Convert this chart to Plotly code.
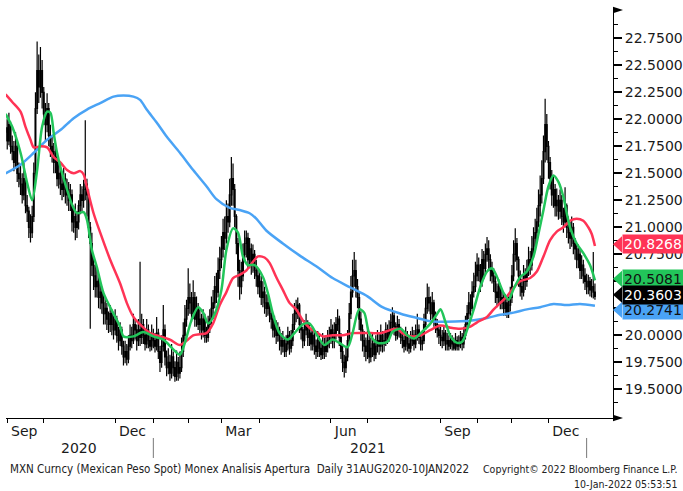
import plotly.graph_objects as go
import pandas as pd

# ---------------- data ----------------
# daily OHLC, trading days 31 Aug 2020 .. 10 Jan 2022
opens = [21.88,21.92,21.80,21.95,21.75,21.70,21.60,21.75,21.50,21.45,
 21.40,21.30,21.45,21.20,21.15,21.00,20.95,21.10,21.50,22.10,
 22.45,22.30,22.45,22.25,22.05,21.95,22.10,21.85,21.75,21.70,
 21.60,21.65,21.45,21.50,21.40,21.35,21.45,21.30,21.35,21.25,
 21.30,21.05,21.10,21.00,21.05,21.20,21.30,21.25,21.35,21.40,
 21.30,21.00,20.85,20.65,20.55,20.45,20.50,20.35,20.40,20.30,
 20.20,20.25,20.15,20.10,20.20,20.10,20.05,20.15,20.00,19.95,
 20.05,19.90,19.80,19.85,19.78,19.90,20.00,19.95,20.10,20.05,
 19.95,20.05,19.98,20.10,20.00,19.92,20.05,19.95,19.90,20.00,
 19.95,19.90,20.02,19.85,19.75,19.90,20.05,19.80,19.70,19.75,
 19.65,19.80,19.70,19.62,19.75,19.65,19.70,19.85,20.00,20.15,
 20.25,20.35,20.30,20.20,20.35,20.15,20.25,20.10,20.15,20.05,
 20.15,20.00,19.98,20.10,20.15,20.25,20.30,20.45,20.40,20.60,
 20.70,20.80,20.95,20.90,21.10,21.05,21.30,21.45,21.35,21.10,
 20.85,20.60,20.45,20.55,20.75,20.85,20.90,20.70,20.80,20.65,
 20.75,20.60,20.55,20.45,20.50,20.35,20.40,20.30,20.25,20.30,
 20.20,20.15,20.05,20.10,20.00,20.05,19.95,19.90,19.95,19.85,
 19.92,20.00,19.88,19.95,20.10,20.20,20.25,20.28,20.10,20.05,
 19.95,20.05,20.10,19.98,20.02,19.92,20.00,19.90,19.85,19.95,
 19.88,19.82,19.92,19.85,19.90,19.95,20.00,20.05,19.95,20.02,
 20.10,20.15,19.98,19.85,19.75,19.70,19.80,19.95,20.20,20.40,
 20.55,20.60,20.45,20.35,20.15,20.05,19.95,19.90,19.85,19.95,
 19.80,19.88,19.92,19.82,19.90,19.95,19.90,20.00,19.92,19.95,
 20.05,19.98,20.05,20.12,20.18,20.08,20.00,20.10,20.05,19.98,
 19.95,19.90,20.00,19.92,19.88,19.95,20.00,19.92,20.00,20.05,
 19.98,19.92,19.95,20.10,20.25,20.35,20.30,20.20,20.30,20.15,
 20.10,20.05,20.00,19.98,19.95,20.02,19.92,19.95,19.90,19.95,
 19.92,19.88,19.95,19.90,19.93,19.98,19.92,20.00,20.10,20.20,
 20.30,20.25,20.40,20.45,20.55,20.65,20.60,20.50,20.70,20.62,
 20.75,20.80,20.70,20.60,20.55,20.50,20.40,20.35,20.45,20.30,
 20.35,20.25,20.30,20.20,20.28,20.35,20.55,20.75,20.85,20.70,
 20.55,20.45,20.40,20.55,20.50,20.60,20.70,20.65,20.80,20.90,
 20.95,21.05,21.20,21.30,21.45,21.70,21.95,21.75,21.60,21.45,
 21.30,21.35,21.20,21.25,21.15,21.25,21.10,21.05,21.20,21.00,
 20.95,20.90,21.00,20.85,20.80,20.70,20.75,20.60,20.65,20.55,
 20.50,20.45,20.50,20.42,20.45,20.40]
highs = [22.02,22.00,22.06,21.98,21.85,21.80,21.88,21.80,21.60,21.58,
 21.50,21.60,21.50,21.30,21.19,21.12,21.20,21.60,22.25,22.72,
 22.60,22.67,22.55,22.30,22.15,22.24,22.15,21.95,21.85,21.78,
 21.75,21.70,21.62,21.58,21.50,21.55,21.50,21.45,21.42,21.40,
 21.35,21.20,21.22,21.15,21.25,21.40,21.38,21.44,21.99,21.45,
 21.35,21.05,20.95,20.72,20.65,20.62,20.55,20.50,20.45,20.39,
 20.35,20.30,20.22,20.28,20.24,20.18,20.24,20.18,20.08,20.12,
 20.08,19.95,19.95,19.92,20.00,20.10,20.08,20.20,20.16,20.10,
 20.15,20.68,20.20,20.15,20.05,20.15,20.10,20.02,20.10,20.06,
 20.02,20.17,20.06,19.90,20.00,20.28,20.10,19.86,19.88,19.82,
 19.92,19.85,19.76,19.86,19.80,19.85,19.98,20.12,20.28,20.33,
 20.62,20.48,20.40,20.51,20.40,20.36,20.30,20.24,20.20,20.24,
 20.20,20.08,20.18,20.24,20.36,20.42,20.55,20.58,20.72,20.82,
 20.92,21.08,21.10,21.25,21.22,21.45,21.65,21.59,21.40,21.12,
 20.90,20.70,20.68,20.85,20.97,20.97,20.95,20.90,20.85,20.84,
 20.79,20.70,20.62,20.60,20.55,20.50,20.45,20.38,20.40,20.33,
 20.28,20.20,20.18,20.14,20.12,20.08,20.02,20.04,19.98,20.00,
 20.08,20.04,20.05,20.20,20.30,20.33,20.35,20.30,20.16,20.08,
 20.14,20.20,20.14,20.10,20.06,20.08,20.04,19.96,20.04,20.00,
 19.94,20.02,19.98,20.00,20.05,20.08,20.15,20.10,20.12,20.17,
 20.24,20.18,20.02,19.90,19.82,19.90,20.05,20.30,20.55,20.70,
 20.77,20.70,20.52,20.40,20.22,20.10,20.04,19.98,20.08,20.00,
 19.98,20.02,19.96,20.00,20.05,20.02,20.10,20.04,20.04,20.12,
 20.10,20.14,20.20,20.26,20.22,20.12,20.18,20.15,20.08,20.06,
 20.00,20.08,20.04,19.98,20.04,20.08,20.05,20.10,20.20,20.10,
 20.02,20.04,20.20,20.35,20.48,20.45,20.36,20.40,20.33,20.22,
 20.15,20.10,20.08,20.05,20.08,20.05,20.02,20.00,20.02,20.00,
 19.98,20.02,19.99,20.00,20.04,20.02,20.08,20.18,20.28,20.40,
 20.38,20.50,20.58,20.68,20.76,20.72,20.66,20.80,20.78,20.85,
 20.91,20.88,20.75,20.68,20.62,20.55,20.48,20.52,20.48,20.42,
 20.39,20.38,20.34,20.36,20.45,20.65,20.88,20.99,20.90,20.73,
 20.60,20.52,20.65,20.62,20.70,20.82,20.78,20.92,21.00,21.08,
 21.18,21.35,21.48,21.62,21.85,22.19,22.05,21.80,21.65,21.53,
 21.48,21.40,21.36,21.30,21.35,21.30,21.18,21.37,21.22,21.10,
 21.05,21.10,21.04,20.90,20.85,20.84,20.80,20.74,20.70,20.62,
 20.57,20.56,20.54,20.52,20.77,20.48]
lows = [21.80,21.72,21.76,21.68,21.62,21.52,21.55,21.42,21.37,21.30,
 21.22,21.25,21.13,21.05,20.90,20.86,20.90,21.05,21.45,22.05,
 22.15,22.20,22.10,21.95,21.80,21.88,21.75,21.65,21.60,21.50,
 21.50,21.38,21.36,21.30,21.25,21.28,21.22,21.20,21.15,21.15,
 20.96,20.95,20.88,20.90,20.98,21.12,21.15,21.18,21.25,21.10,
 20.90,20.06,20.55,20.42,20.35,20.35,20.25,20.24,20.20,20.10,
 20.10,20.05,20.02,20.03,20.00,19.96,20.00,19.93,19.86,19.90,
 19.82,19.72,19.74,19.72,19.74,19.86,19.88,19.92,19.96,19.86,
 19.90,19.90,19.92,19.92,19.86,19.88,19.88,19.85,19.86,19.88,
 19.84,19.86,19.78,19.66,19.70,19.85,19.72,19.62,19.64,19.58,
 19.60,19.62,19.57,19.58,19.58,19.60,19.66,19.80,19.95,20.08,
 20.18,20.20,20.12,20.15,20.08,20.08,20.05,20.02,19.96,19.98,
 19.93,19.93,19.94,20.02,20.10,20.15,20.25,20.30,20.35,20.52,
 20.62,20.72,20.79,20.85,20.95,21.00,21.20,21.20,21.00,20.75,
 20.45,20.33,20.38,20.50,20.68,20.72,20.62,20.62,20.56,20.58,
 20.52,20.45,20.38,20.35,20.28,20.26,20.20,20.17,20.18,20.12,
 20.06,19.98,19.98,19.92,19.94,19.86,19.82,19.84,19.80,19.80,
 19.86,19.82,19.84,19.90,20.05,20.12,20.15,20.02,19.96,19.88,
 19.90,20.00,19.90,19.90,19.86,19.86,19.82,19.78,19.80,19.80,
 19.77,19.78,19.78,19.80,19.84,19.88,19.92,19.88,19.88,19.96,
 20.04,19.90,19.78,19.66,19.61,19.65,19.76,19.92,20.15,20.35,
 20.45,20.35,20.25,20.05,19.95,19.85,19.80,19.76,19.78,19.74,
 19.75,19.80,19.76,19.78,19.84,19.82,19.85,19.84,19.85,19.90,
 19.92,19.94,20.00,20.06,20.00,19.95,19.96,19.98,19.92,19.88,
 19.84,19.86,19.85,19.83,19.84,19.90,19.86,19.88,19.95,19.92,
 19.86,19.86,19.92,20.05,20.20,20.22,20.12,20.15,20.08,20.02,
 19.98,19.92,19.90,19.88,19.90,19.86,19.86,19.86,19.87,19.86,
 19.86,19.86,19.86,19.86,19.88,19.86,19.88,19.96,20.05,20.15,
 20.18,20.22,20.35,20.40,20.50,20.50,20.40,20.45,20.52,20.55,
 20.68,20.60,20.50,20.48,20.40,20.30,20.26,20.28,20.24,20.24,
 20.18,20.18,20.16,20.16,20.22,20.30,20.50,20.68,20.60,20.45,
 20.36,20.33,20.36,20.42,20.45,20.55,20.56,20.60,20.72,20.82,
 20.88,21.00,21.10,21.22,21.40,21.60,21.62,21.45,21.35,21.20,
 21.18,21.10,21.10,21.07,21.08,21.02,20.95,21.00,20.90,20.85,
 20.80,20.82,20.75,20.70,20.62,20.62,20.52,20.52,20.48,20.42,
 20.38,20.38,20.36,20.35,20.34,20.33]
closes = [21.92,21.80,21.95,21.75,21.70,21.60,21.75,21.50,21.45,21.40,
 21.30,21.45,21.20,21.15,21.00,20.95,21.10,21.50,22.10,22.45,
 22.30,22.45,22.25,22.05,21.95,22.10,21.85,21.75,21.70,21.60,
 21.65,21.45,21.50,21.40,21.35,21.45,21.30,21.35,21.25,21.30,
 21.05,21.10,21.00,21.05,21.20,21.30,21.25,21.35,21.40,21.30,
 21.00,20.85,20.65,20.55,20.45,20.50,20.35,20.40,20.30,20.20,
 20.25,20.15,20.10,20.20,20.10,20.05,20.15,20.00,19.95,20.05,
 19.90,19.80,19.85,19.78,19.90,20.00,19.95,20.10,20.05,19.95,
 20.05,19.98,20.10,20.00,19.92,20.05,19.95,19.90,20.00,19.95,
 19.90,20.02,19.85,19.75,19.90,20.05,19.80,19.70,19.75,19.65,
 19.80,19.70,19.62,19.75,19.65,19.70,19.85,20.00,20.15,20.25,
 20.35,20.30,20.20,20.35,20.15,20.25,20.10,20.15,20.05,20.15,
 20.00,19.98,20.10,20.15,20.25,20.30,20.45,20.40,20.60,20.70,
 20.80,20.95,20.90,21.10,21.05,21.30,21.45,21.35,21.10,20.85,
 20.60,20.45,20.55,20.75,20.85,20.90,20.70,20.80,20.65,20.75,
 20.60,20.55,20.45,20.50,20.35,20.40,20.30,20.25,20.30,20.20,
 20.15,20.05,20.10,20.00,20.05,19.95,19.90,19.95,19.85,19.92,
 20.00,19.88,19.95,20.10,20.20,20.25,20.28,20.10,20.05,19.95,
 20.05,20.10,19.98,20.02,19.92,20.00,19.90,19.85,19.95,19.88,
 19.82,19.92,19.85,19.90,19.95,20.00,20.05,19.95,20.02,20.10,
 20.15,19.98,19.85,19.75,19.70,19.80,19.95,20.20,20.40,20.55,
 20.60,20.45,20.35,20.15,20.05,19.95,19.90,19.85,19.95,19.80,
 19.88,19.92,19.82,19.90,19.95,19.90,20.00,19.92,19.95,20.05,
 19.98,20.05,20.12,20.18,20.08,20.00,20.10,20.05,19.98,19.95,
 19.90,20.00,19.92,19.88,19.95,20.00,19.92,20.00,20.05,19.98,
 19.92,19.95,20.10,20.25,20.35,20.30,20.20,20.30,20.15,20.10,
 20.05,20.00,19.98,19.95,20.02,19.92,19.95,19.90,19.95,19.92,
 19.88,19.95,19.90,19.93,19.98,19.92,20.00,20.10,20.20,20.30,
 20.25,20.40,20.45,20.55,20.65,20.60,20.50,20.70,20.62,20.75,
 20.80,20.70,20.60,20.55,20.50,20.40,20.35,20.45,20.30,20.35,
 20.25,20.30,20.20,20.28,20.35,20.55,20.75,20.85,20.70,20.55,
 20.45,20.40,20.55,20.50,20.60,20.70,20.65,20.80,20.90,20.95,
 21.05,21.20,21.30,21.45,21.70,21.95,21.75,21.60,21.45,21.30,
 21.35,21.20,21.25,21.15,21.25,21.10,21.05,21.20,21.00,20.95,
 20.90,21.00,20.85,20.80,20.70,20.75,20.60,20.65,20.55,20.50,
 20.45,20.50,20.42,20.45,20.40,20.3603]

# moving averages: trading-day number (0 = 31 Aug 2020) and value
green_day = [0,4,9,13,16,19,22,25,27,29,31,33,37,40,43,47,49,52,55,59,65,69,71,77,83,89,95,101,105,108,
             112,116,119,122,126,130,133,137,140,143,146,150,155,158,161,165,170,174,179,183,188,192,197,
             201,206,209,213,216,219,224,230,233,238,242,246,250,256,260,262,265,268,272,275,278,282,286,
             290,293,296,300,303,306,310,314,318,321,324,327,330,333,336,338,340,344,348,352,355]
green_val = [22.05,21.93,21.69,21.41,21.25,21.53,21.93,22.07,22.06,21.87,21.69,21.56,21.35,21.21,21.13,21.14,
             21.07,20.79,20.63,20.39,20.20,20.08,19.99,19.99,20.03,19.99,19.96,19.87,19.82,19.93,
             20.14,20.26,20.21,20.11,20.20,20.42,20.79,20.99,20.95,20.73,20.65,20.65,20.54,20.39,20.20,
             20.02,19.96,20.02,20.10,20.11,19.99,19.91,19.96,19.93,19.89,20.02,20.24,20.21,20.02,19.93,
             19.94,20.03,20.06,20.00,19.97,20.02,20.11,20.20,20.24,20.12,19.99,19.93,19.94,20.05,20.24,
             20.45,20.59,20.62,20.54,20.39,20.33,20.43,20.54,20.59,20.73,20.94,21.16,21.38,21.48,21.42,
             21.28,21.13,21.00,20.85,20.76,20.65,20.5081]
red_day = [0,4,9,12,15,17,21,25,29,33,37,41,45,47,49,53,57,63,69,73,77,81,87,93,99,105,109,113,117,121,
           125,129,133,137,141,145,149,152,156,159,163,167,171,175,179,183,188,191,197,203,209,220,226,
           232,236,239,244,250,256,262,268,274,280,284,290,294,298,302,306,310,316,320,324,328,332,336,
           340,344,348,351,353,355]
red_val = [22.23,22.16,22.07,21.93,21.81,21.74,21.75,21.74,21.65,21.60,21.53,21.50,21.52,21.49,21.37,21.13,
           20.95,20.70,20.48,20.30,20.17,20.10,20.02,19.99,19.96,19.91,19.95,20.00,20.01,20.02,
           20.11,20.28,20.40,20.53,20.56,20.60,20.68,20.73,20.72,20.67,20.54,20.42,20.30,20.24,20.14,
           20.07,20.02,19.99,20.00,20.00,20.02,20.02,20.02,20.05,20.06,20.02,19.99,20.00,20.05,20.09,
           20.07,20.06,20.08,20.12,20.17,20.24,20.30,20.36,20.44,20.50,20.53,20.59,20.73,20.88,20.96,
           21.00,21.06,21.08,21.06,21.00,20.94,20.8268]
blue_day = [0,9,17,25,33,41,49,57,65,71,77,81,85,91,97,105,113,121,127,135,141,147,151,157,167,177,188,
            197,208,218,227,238,248,256,274,282,290,298,306,314,322,330,338,346,355]
blue_val = [21.50,21.58,21.69,21.81,21.90,22.01,22.09,22.15,22.21,22.22,22.21,22.18,22.09,21.97,21.84,21.69,
            21.53,21.38,21.26,21.18,21.16,21.13,21.08,20.97,20.85,20.74,20.63,20.53,20.44,20.36,20.26,
            20.20,20.16,20.13,20.13,20.14,20.16,20.19,20.21,20.24,20.26,20.29,20.28,20.29,20.2741]

# right-hand value tags
tag_text = ["20.2741", "20.5081", "20.8268", "20.3603"]
tag_value = [20.2741, 20.5081, 20.8268, 20.3603]

# axis labels
month_starts = ["2020-09-01", "2020-10-01", "2020-11-01", "2020-12-01", "2021-01-01", "2021-02-01",
                "2021-03-01", "2021-04-01", "2021-05-01", "2021-06-01", "2021-07-01", "2021-08-01",
                "2021-09-01", "2021-10-01", "2021-11-01", "2021-12-01", "2022-01-01"]
quarter_ticks = ["2020-09-01", "2020-12-01", "2021-03-01", "2021-06-01", "2021-09-01", "2021-12-01"]
quarter_text = ["Sep", "Dec", "Mar", "Jun", "Sep", "Dec"]
year_text = ["2020", "2021"]
year_mid = ["2020-10-30", "2021-07-01"]
year_start = ["2021-01-01", "2022-01-03"]
y_ticks = [19.5, 19.75, 20.0, 20.25, 20.5, 20.75, 21.0, 21.25, 21.5, 21.75, 22.0, 22.25, 22.5, 22.75]

# ---------------- figure ----------------
dates = pd.bdate_range("2020-08-31", "2022-01-10")[:len(closes)]

RED = "#ff3355"
GREEN = "#22c55a"
BLUE = "#4aa3f5"
FONT = "DejaVu Sans"

fig = go.Figure()
fig.add_trace(go.Candlestick(
    x=dates, open=opens, high=highs, low=lows, close=closes,
    increasing=dict(line=dict(color="black", width=1.2), fillcolor="white"),
    decreasing=dict(line=dict(color="black", width=1.2), fillcolor="black"),
    whiskerwidth=0, hoverinfo="skip", showlegend=False))

for day, val, col in [(blue_day, blue_val, BLUE), (red_day, red_val, RED), (green_day, green_val, GREEN)]:
    fig.add_trace(go.Scatter(
        x=[dates[d] for d in day], y=val, mode="lines",
        line=dict(color=col, width=2.5, shape="spline", smoothing=0.8),
        hoverinfo="skip", showlegend=False))

tag_bg = [BLUE, GREEN, RED, "black"]
tag_fg = ["#111111", "#111111", "white", "white"]
tag_offset = [-0.04, 0.015, 0.015, 0.015]   # label placement nudges (avoid overlap)
shapes = []
annotations = []
for txt, val, bg, fg, off in zip(tag_text, tag_value, tag_bg, tag_fg, tag_offset):
    yc = val + off
    shapes.append(dict(type="path", xref="paper", yref="y",
                       path=f"M 1.0,{yc} L 1.0148,{yc + 0.075} L 1.0148,{yc - 0.075} Z",
                       fillcolor=bg, line=dict(width=0)))
    annotations.append(dict(xref="paper", yref="y", x=1.0148, y=yc, xanchor="left", yanchor="middle",
                            text=txt, showarrow=False, bgcolor=bg, borderpad=1, height=16,
                            align="left", font=dict(family=FONT, size=14, color=fg)))

# axis-end arrows
shapes.append(dict(type="path", xref="paper", yref="paper",
                   path="M 1.0,1.008 L 1.0165,1.0 L 1.0,0.992 Z", fillcolor="black", line=dict(width=0)))
shapes.append(dict(type="path", xref="paper", yref="paper",
                   path="M 1.0,0.008 L 1.0165,0.0 L 1.0,-0.008 Z", fillcolor="black", line=dict(width=0)))

for ys in year_start:
    shapes.append(dict(type="line", xref="x", yref="paper", x0=ys, x1=ys, y0=-0.049, y1=-0.098,
                       line=dict(color="#777777", width=1)))
for yt, ym in zip(year_text, year_mid):
    annotations.append(dict(xref="x", yref="paper", x=ym, y=-0.073, text=yt, showarrow=False,
                            xanchor="center", yanchor="middle",
                            font=dict(family=FONT, size=14, color="#1a1a1a")))

foot_font = dict(family="DejaVu Sans Condensed, DejaVu Sans", size=11.5, color="#222222")
foot_font_r = dict(family="DejaVu Sans Condensed, DejaVu Sans", size=10.5, color="#222222")
annotations.append(dict(xref="paper", yref="paper", x=0.0033, y=-0.125, xanchor="left", yanchor="middle",
                        text="MXN Curncy (Mexican Peso Spot) Monex Analisis Apertura  Daily 31AUG2020-10JAN2022",
                        showarrow=False, font=foot_font))
annotations.append(dict(xref="paper", yref="paper", x=1.108, y=-0.125, xanchor="right", yanchor="middle",
                        text="Copyright© 2022 Bloomberg Finance L.P.", showarrow=False, font=foot_font_r))
annotations.append(dict(xref="paper", yref="paper", x=1.108, y=-0.162, xanchor="right", yanchor="middle",
                        text="10-Jan-2022 05:53:51", showarrow=False, font=foot_font_r))

fig.update_layout(
    width=683, height=491,
    margin=dict(l=6, r=70, t=10, b=73, autoexpand=False),
    paper_bgcolor="white", plot_bgcolor="white",
    showlegend=False,
    shapes=shapes, annotations=annotations,
    xaxis=dict(
        type="date", range=["2020-08-31 06:00", "2022-01-24 21:00"],
        rangebreaks=[dict(bounds=["sat", "mon"])],
        rangeslider=dict(visible=False),
        automargin=False,
        showgrid=False, zeroline=False,
        showline=True, linecolor="black", linewidth=1,
        ticks="outside", ticklen=4, tickcolor="black", tickwidth=1,
        tickmode="array", tickvals=quarter_ticks,
        ticktext=["\u2009" + t for t in quarter_text],
        ticklabelposition="outside right",
        tickfont=dict(family=FONT, size=14, color="#1a1a1a"),
        minor=dict(tickmode="array", tickvals=month_starts, ticks="outside", ticklen=4,
                   tickcolor="black", tickwidth=1, showgrid=False),
    ),
    yaxis=dict(
        side="right", range=[19.234, 23.012],
        automargin=False,
        showgrid=False, zeroline=False,
        showline=True, linecolor="black", linewidth=1,
        tickmode="array", tickvals=y_ticks, tickformat=".4f",
        ticks="outside", ticklen=8, tickwidth=2, tickcolor="black",
        tickfont=dict(family=FONT, size=14, color="#1a1a1a"),
        minor=dict(tick0=19.375, dtick=0.25, ticks="outside", ticklen=4, tickcolor="black",
                   tickwidth=1, showgrid=False),
    ),
)

fig.write_html("out.html", config={"displayModeBar": False},
               post_script="document.body.style.margin='0';")
